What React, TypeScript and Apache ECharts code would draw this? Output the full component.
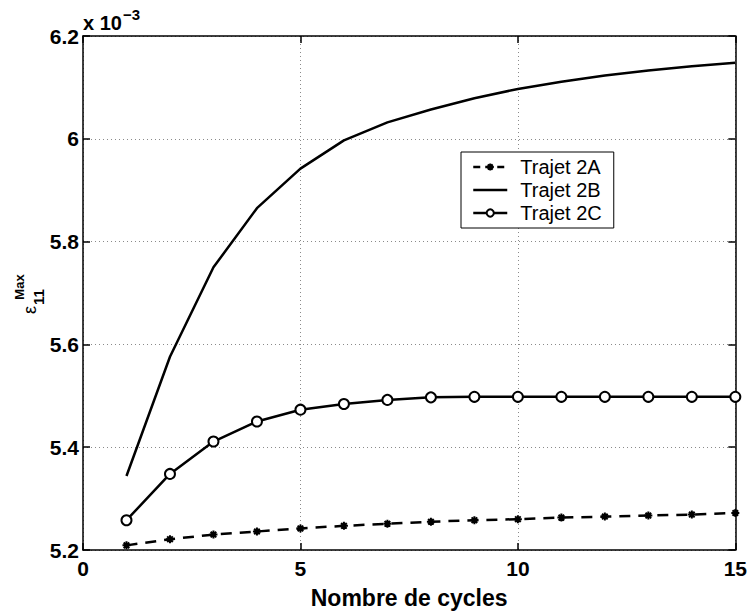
import React, { useEffect, useRef } from "react";
import * as echarts from "echarts";

const cycles = [1, 2, 3, 4, 5, 6, 7, 8, 9, 10, 11, 12, 13, 14, 15];
const trajet2A = [5.209, 5.221, 5.230, 5.236, 5.242, 5.247, 5.251, 5.255, 5.258, 5.260, 5.263, 5.265, 5.267, 5.269, 5.272];
const trajet2B = [5.344, 5.576, 5.750, 5.865, 5.942, 5.997, 6.032, 6.057, 6.079, 6.097, 6.111, 6.123, 6.133, 6.141, 6.148];
const trajet2C = [5.258, 5.348, 5.411, 5.450, 5.473, 5.484, 5.492, 5.497, 5.498, 5.498, 5.498, 5.498, 5.498, 5.498, 5.498];
const seriesNames = ["Trajet 2A", "Trajet 2B", "Trajet 2C"];
const xTitle = "Nombre de cycles";

const FONT = "'Liberation Sans', Arial, Helvetica, sans-serif";
const ASTERISK = "path://M0,5L10,5M5,0L5,10M1.5,1.5L8.5,8.5M1.5,8.5L8.5,1.5";

function pairs(ys: number[]) {
  return cycles.map((c, i) => [c, ys[i]]);
}

export default function App() {
  const ref = useRef<HTMLDivElement>(null);
  useEffect(() => {
    if (!ref.current) return;
    const chart = echarts.init(ref.current, null, { renderer: "svg" });
    const tickStyle = { show: true, inside: true, length: 7, lineStyle: { color: "#000", width: 1.5 } };
    const lineAxis = { show: true, onZero: false, lineStyle: { color: "#000", width: 1.5 } };
    const split = { show: true, lineStyle: { color: "#8a8a8a", width: 1, type: [1, 3] as any } };
    const labelStyle = { color: "#000", fontFamily: FONT, fontWeight: "bold" as const, fontSize: 21 };
    chart.setOption({
      animation: false,
      backgroundColor: "#fff",
      grid: { left: 83, right: 11, top: 36, bottom: 62, containLabel: false },
      xAxis: [
        {
          type: "value", min: 0, max: 15, interval: 5, position: "bottom",
          axisLine: lineAxis, axisTick: tickStyle, splitLine: split,
          axisLabel: { ...labelStyle, margin: 8 },
          name: xTitle, nameLocation: "middle", nameGap: 36,
          nameTextStyle: { color: "#000", fontFamily: FONT, fontWeight: "bold", fontSize: 23 },
        },
        {
          type: "value", min: 0, max: 15, interval: 5, position: "top",
          axisLine: lineAxis, axisTick: tickStyle, splitLine: { show: false }, axisLabel: { show: false },
        },
      ],
      yAxis: [
        {
          type: "value", min: 5.2, max: 6.2, interval: 0.2, position: "left",
          axisLine: lineAxis, axisTick: tickStyle, splitLine: split,
          axisLabel: { ...labelStyle, margin: 4, formatter: (v: number) => String(Math.round(v * 10) / 10) },
        },
        {
          type: "value", min: 5.2, max: 6.2, interval: 0.2, position: "right",
          axisLine: lineAxis, axisTick: tickStyle, splitLine: { show: false }, axisLabel: { show: false },
        },
      ],
      legend: {
        orient: "vertical", left: 461, top: 152,
        data: [
          { name: seriesNames[0], lineStyle: { type: [7, 5], width: 2.5, color: "#000" } },
          { name: seriesNames[1], itemStyle: { opacity: 0 }, lineStyle: { width: 2.5, color: "#000" } },
          { name: seriesNames[2], lineStyle: { width: 2.5, color: "#000" } },
        ],
        backgroundColor: "#fff",
        borderColor: "#000", borderWidth: 1, borderRadius: 0,
        padding: [5, 12, 5, 11],
        itemWidth: 34, itemHeight: 9, itemGap: 3,
        textStyle: { color: "#000", fontFamily: FONT, fontSize: 20, lineHeight: 20, padding: [0, 0, 0, 8] },
      },
      series: [
        {
          name: seriesNames[0], type: "line", data: pairs(trajet2A),
          symbol: ASTERISK, symbolSize: 8,
          lineStyle: { color: "#000", width: 2.5, type: [11, 8] },
          itemStyle: { color: "#000", borderColor: "#000", borderWidth: 2 },
          z: 3,
        },
        {
          name: seriesNames[1], type: "line", data: pairs(trajet2B),
          symbol: "none",
          lineStyle: { color: "#000", width: 2.5 },
          itemStyle: { color: "#000" },
          z: 3,
        },
        {
          name: seriesNames[2], type: "line", data: pairs(trajet2C),
          symbol: "emptyCircle", symbolSize: 10,
          lineStyle: { color: "#000", width: 2.5 },
          itemStyle: { color: "#000", borderColor: "#000", borderWidth: 2 },
          z: 3,
        },
      ],
      graphic: [
        { type: "text", x: 83, y: 23, style: { text: "x 10", fill: "#000", font: `bold 20px ${FONT}`, textAlign: "left", textVerticalAlign: "middle" } },
        { type: "text", x: 123, y: 14, style: { text: "\u22123", fill: "#000", font: `bold 15px ${FONT}`, textAlign: "left", textVerticalAlign: "middle" } },
        { type: "text", x: 30, y: 310, rotation: Math.PI / 2, style: { text: "\u03b5", fill: "#000", font: `18px ${FONT}`, textAlign: "center", textVerticalAlign: "middle" } },
        { type: "text", x: 19, y: 287, rotation: Math.PI / 2, style: { text: "Max", fill: "#000", font: `bold 13px ${FONT}`, textAlign: "center", textVerticalAlign: "middle" } },
        { type: "text", x: 38, y: 297, rotation: Math.PI / 2, style: { text: "11", fill: "#000", font: `bold 15px ${FONT}`, textAlign: "center", textVerticalAlign: "middle" } },
      ],
    });
    return () => chart.dispose();
  }, []);
  return <div ref={ref} style={{ position: "fixed", left: 0, top: 0, width: 750, height: 614 }} />;
}
